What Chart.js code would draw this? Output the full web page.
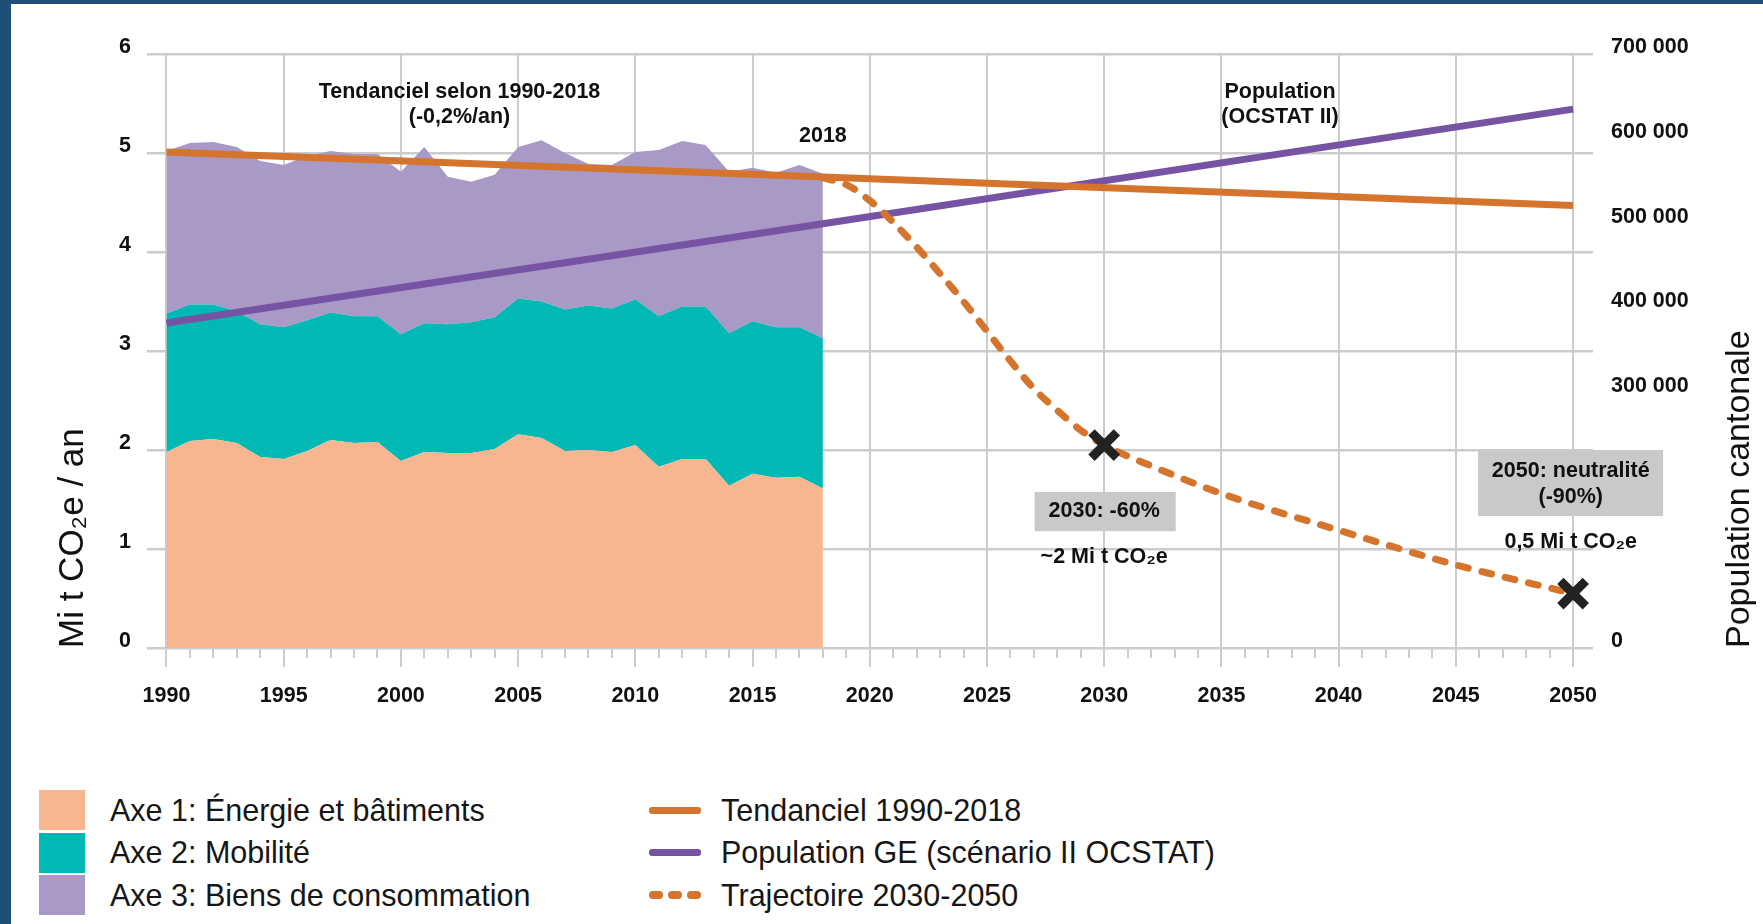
<!DOCTYPE html>
<html>
<head>
<meta charset="utf-8">
<script src="https://cdn.jsdelivr.net/npm/chart.js@4.4.1/dist/chart.umd.min.js"></script>
<style>
  body { margin: 0; width: 1763px; height: 924px; overflow: hidden; position: relative; background: #fff;
         font-family: 'Liberation Sans', Arial, sans-serif; }
  #frameL { position: absolute; left: 0; top: 0; width: 11px; height: 924px; background: #1f4e78; z-index: 2; }
  #frameT { position: absolute; left: 0; top: 0; width: 1763px; height: 4px; background: #1f4e78; z-index: 2; }
  #wrap { position: absolute; left: 0; top: 0; width: 1763px; height: 760px; }
  .col { position: absolute; top: 789px; }
  #colA { left: 39px; }
  #colB { left: 649px; }
  .item { display: flex; align-items: center; height: 42.5px; font-size: 30.5px; color: #161616; white-space: nowrap; }
  .box { width: 46px; height: 40px; margin-right: 25px; }
  .line { width: 52px; height: 7px; border-radius: 3px; margin-right: 20px; }
  .dots { width: 52px; display: flex; justify-content: space-between; margin-right: 20px; }
  .dots span { width: 14px; height: 8px; border-radius: 4px; }
</style>
</head>
<body>
<div id="frameL"></div>
<div id="frameT"></div>
<div id="wrap"><canvas id="myChart"></canvas></div>
<div class="col" id="colA"></div>
<div class="col" id="colB"></div>
<script>
let myChart = document.getElementById('myChart').getContext('2d');

//Data
const years = [1990,1991,1992,1993,1994,1995,1996,1997,1998,1999,2000,2001,2002,2003,2004,
               2005,2006,2007,2008,2009,2010,2011,2012,2013,2014,2015,2016,2017,2018];
const axe1 = [1.98,2.09,2.11,2.07,1.93,1.91,1.99,2.10,2.07,2.08,1.89,1.98,1.97,1.97,2.01,
              2.16,2.12,1.99,2.00,1.98,2.05,1.83,1.91,1.91,1.64,1.76,1.72,1.73,1.61];
const axe2 = [1.40,1.38,1.36,1.33,1.34,1.33,1.32,1.29,1.28,1.27,1.28,1.30,1.30,1.32,1.33,
              1.37,1.38,1.43,1.46,1.45,1.47,1.52,1.54,1.54,1.54,1.54,1.52,1.51,1.52];
const axe3 = [1.64,1.63,1.64,1.66,1.65,1.64,1.66,1.63,1.64,1.64,1.64,1.78,1.49,1.42,1.44,
              1.53,1.63,1.58,1.43,1.45,1.49,1.68,1.67,1.63,1.63,1.55,1.56,1.64,1.66];
const trendYears = [1990, 2050];
const trendValues = [5.01, 4.47];
const popYears = [1990, 2018, 2050];
const popValues = [383000, 500000, 635000];
const trajYears = [2018,2019,2020,2021,2022,2023,2024,2025,2026,2027,2028,2029,2030,2032,2035,2040,2045,2050];
const trajValues = [4.75,4.68,4.52,4.30,4.05,3.78,3.50,3.20,2.90,2.62,2.40,2.20,2.05,1.84,1.56,1.19,0.84,0.55];
const targetYears = [2030, 2050];
const targetValues = [2.05, 0.55];
const popTicks = [0, 300000, 400000, 500000, 600000, 700000];
const firstYear = 1990, lastYear = 2050;
const xTicks = [];
for (let yr = firstYear; yr <= lastYear; yr++) xTicks.push(yr);

const pts = (xs, ys) => xs.map((x, i) => ({x: x, y: ys[i]}));
const FONT = "'Liberation Sans', Arial, sans-serif";

//Text notes on the chart (in data units)
const notes = [
  {x: 2002.5, y: 5.62, text: 'Tendanciel selon 1990-2018'},
  {x: 2002.5, y: 5.36, text: '(-0,2%/an)'},
  {x: 2018, y: 5.17, text: '2018'},
  {x: 2037.5, y: 5.62, text: 'Population'},
  {x: 2037.5, y: 5.36, text: '(OCSTAT II)'},
  {x: 2030, y: 1.38, text: '2030: -60%'},
  {x: 2030, y: 0.92, text: '~2 Mi t CO₂e'},
  {x: 2049.9, y: 1.79, text: '2050: neutralité'},
  {x: 2049.9, y: 1.52, text: '(-90%)'},
  {x: 2049.9, y: 1.07, text: '0,5 Mi t CO₂e'}
];
const boxes = [
  {x0: 2027.03, x1: 2033.05, y0: 1.576, y1: 1.18},
  {x0: 2045.95, x1: 2053.84, y0: 2.0, y1: 1.333}
];

const notePlugin = {
  id: 'notes',
  afterDraw(chart) {
    const {ctx, scales: {x, y}} = chart;
    ctx.save();
    ctx.fillStyle = '#c9c9ca';
    boxes.forEach(b => {
      const px0 = x.getPixelForValue(b.x0), px1 = x.getPixelForValue(b.x1);
      const py0 = y.getPixelForValue(b.y0), py1 = y.getPixelForValue(b.y1);
      ctx.fillRect(px0, py0, px1 - px0, py1 - py0);
    });
    ctx.fillStyle = '#111';
    ctx.font = 'bold 21.5px ' + FONT;
    ctx.textAlign = 'center';
    ctx.textBaseline = 'middle';
    notes.forEach(n => ctx.fillText(n.text, x.getPixelForValue(n.x), y.getPixelForValue(n.y)));
    // right axis title, reading upwards
    ctx.font = '34px ' + FONT;
    ctx.textAlign = 'left';
    ctx.translate(1740, y.bottom);
    ctx.rotate(-Math.PI / 2);
    ctx.fillText('Population cantonale', 0, 0);
    ctx.restore();
  }
};

let co2Chart = new Chart(myChart, {
  type: 'line',
  data: {
    datasets: [
      {label: 'Axe 1: Énergie et bâtiments', data: pts(years, axe1), stack: 'em', order: 2,
       backgroundColor: '#f7b68f', borderColor: 'rgba(0,0,0,0)', borderWidth: 0, fill: 'origin', legendStyle: 'box'},
      {label: 'Axe 2: Mobilité', data: pts(years, axe2), stack: 'em', order: 2,
       backgroundColor: '#00b8b4', borderColor: 'rgba(0,0,0,0)', borderWidth: 0, fill: '-1', legendStyle: 'box'},
      {label: 'Axe 3: Biens de consommation', data: pts(years, axe3), stack: 'em', order: 2,
       backgroundColor: '#a899c6', borderColor: 'rgba(0,0,0,0)', borderWidth: 0, fill: '-1', legendStyle: 'box'},
      {label: 'Tendanciel 1990-2018', data: pts(trendYears, trendValues), stack: 'trend', order: 1,
       borderColor: '#d5742d', backgroundColor: '#d5742d', borderWidth: 7, fill: false, legendStyle: 'line'},
      {label: 'Population GE (scénario II OCSTAT)', data: pts(popYears, popValues), yAxisID: 'y2', order: 1,
       borderColor: '#7753a4', backgroundColor: '#7753a4', borderWidth: 7, fill: false, legendStyle: 'line'},
      {label: 'Trajectoire 2030-2050', data: pts(trajYears, trajValues), stack: 'traj', order: 0,
       borderColor: '#d5742d', backgroundColor: '#d5742d', borderWidth: 7, borderDash: [10, 14], borderCapStyle: 'round',
       cubicInterpolationMode: 'monotone', fill: false, legendStyle: 'dots'},
      {label: 'cibles', data: pts(targetYears, targetValues), stack: 'cible', order: -1, showLine: false,
       pointStyle: 'crossRot', pointRadius: 18, borderWidth: 9, borderColor: '#222', backgroundColor: '#222', legendStyle: null}
    ]
  },
  options: {
    responsive: true,
    maintainAspectRatio: false,
    animation: false,
    layout: { padding: {top: 54, left: 0, right: 0, bottom: 0} },
    elements: { point: { radius: 0 }, line: { tension: 0 } },
    plugins: {
      legend: { display: false },
      tooltip: { enabled: false }
    },
    scales: {
      x: {
        type: 'linear',
        bounds: 'data',
        min: 1989.17,
        max: 2050.85,
        afterFit: s => { s.height = 112; },
        afterBuildTicks: s => { s.ticks = xTicks.map(v => ({value: v})); },
        border: { display: false },
        grid: {
          color: c => (c.tick && c.tick.value % 5 === 0) ? '#cccccc' : 'rgba(0,0,0,0)',
          lineWidth: 2,
          tickColor: '#cccccc',
          tickWidth: 2,
          tickLength: 19,
          tickBorderDash: c => (c.tick && c.tick.value % 5 === 0) ? [] : [10, 40]
        },
        ticks: {
          autoSkip: false,
          maxRotation: 0,
          padding: 16,
          color: '#111',
          font: { family: FONT, size: 21.5, weight: 'bold' },
          callback: v => v % 5 === 0 ? String(v) : ''
        }
      },
      y: {
        stacked: true,
        min: 0,
        max: 6,
        afterFit: s => { s.width = 147; },
        border: { display: false },
        grid: { color: '#cccccc', lineWidth: 2.5, drawTicks: false },
        ticks: {
          stepSize: 1,
          padding: 16,
          labelOffset: -7,
          color: '#111',
          font: { family: FONT, size: 21.5, weight: 'bold' }
        },
        title: {
          display: true,
          text: 'Mi t CO₂e / an',
          align: 'start',
          color: '#111',
          padding: { top: 52, bottom: 0 },
          font: { family: FONT, size: 35 }
        }
      },
      y2: {
        position: 'right',
        min: 0,
        max: 700000,
        afterFit: s => { s.width = 170; },
        afterBuildTicks: s => { s.ticks = popTicks.map(v => ({value: v})); },
        border: { display: false },
        grid: { drawOnChartArea: false, drawTicks: false },
        ticks: {
          padding: 18,
          labelOffset: -7,
          color: '#111',
          font: { family: FONT, size: 21.5, weight: 'bold' },
          callback: v => v === 0 ? '0' : String(v / 1000) + ' 000'
        }
      }
    }
  },
  plugins: [notePlugin]
});

//Legend in two columns, built from the datasets
function buildLegend() {
  const sets = co2Chart.data.datasets.filter(d => d.legendStyle);
  sets.forEach(d => {
    const item = document.createElement('div');
    item.className = 'item';
    let sw = document.createElement('div');
    if (d.legendStyle === 'box') {
      sw.className = 'box';
      sw.style.background = d.backgroundColor;
    } else if (d.legendStyle === 'line') {
      sw.className = 'line';
      sw.style.background = d.borderColor;
    } else {
      sw.className = 'dots';
      for (let i = 0; i < 3; i++) {
        const s = document.createElement('span');
        s.style.background = d.borderColor;
        sw.appendChild(s);
      }
    }
    item.appendChild(sw);
    const t = document.createElement('span');
    t.textContent = d.label;
    item.appendChild(t);
    document.getElementById(d.legendStyle === 'box' ? 'colA' : 'colB').appendChild(item);
  });
}
buildLegend();
</script>
</body>
</html>
